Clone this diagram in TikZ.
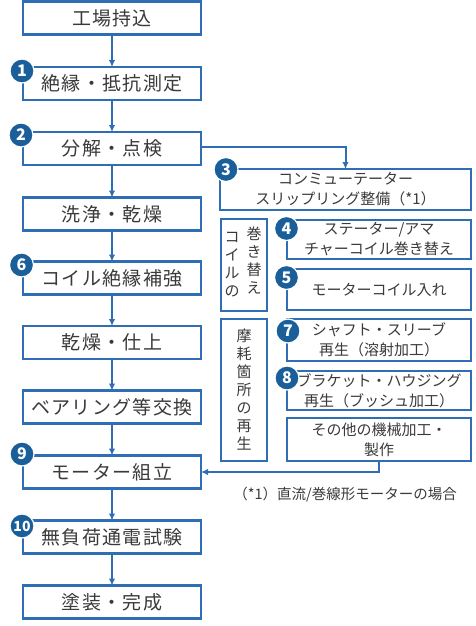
\documentclass[tikz,border=0pt]{standalone}
\usepackage{fontspec}
\setmainfont{Noto Sans CJK JP}
\usetikzlibrary{arrows.meta}
\definecolor{boxblue}{HTML}{2F6DB5}
\definecolor{badgeblue}{HTML}{1A5E9A}
\definecolor{textgray}{HTML}{3A3A3A}

\begin{document}
\begin{tikzpicture}[x=1pt,y=-1pt,
    >={Latex[length=7pt,width=6.5pt]},
    stepbox/.style={draw=boxblue, line width=2.5pt, fill=white, text=textgray,
      minimum width=178pt, minimum height=33pt, inner sep=0pt, outer sep=0pt,
      font=\fontsize{19pt}{22pt}\selectfont\addfontfeatures{LetterSpace=7}},
    subbox/.style={draw=boxblue, line width=2.5pt, fill=white, text=textgray,
      inner sep=0pt, outer sep=0pt, align=center,
      font=\fontsize{15pt}{20pt}\selectfont},
    vtext/.style={text=textgray, align=center, font=\fontsize{15pt}{18pt}\selectfont},
    badge/.style={circle, fill=badgeblue, draw=white, line width=1.2pt,
      minimum size=24pt, inner sep=0pt, text=white,
      font=\bfseries\fontsize{16pt}{16pt}\selectfont},
    flow/.style={->, draw=boxblue, line width=2pt}]

  \useasboundingbox (0,0) rectangle (475,626);

  % Main process on the left
  \node[stepbox] (bring)    at (112,18)    {工場持込};
  \node[stepbox] (measure)  at (112,83.5)  {絶縁・抵抗測定};
  \node[stepbox] (inspect)  at (112,148.5) {分解・点検};
  \node[stepbox] (wash)     at (112,214)   {洗浄・乾燥};
  \node[stepbox] (coil)     at (112,278)   {コイル絶縁補強};
  \node[stepbox] (finish)   at (112,342.5) {乾燥・仕上};
  \node[stepbox] (bearing)  at (112,407)   {ベアリング等交換};
  \node[stepbox] (assemble) at (112,472)   {モーター組立};
  \node[stepbox] (test)     at (112,537)   {無負荷通電試験};
  \node[stepbox] (paint)    at (112,602)   {塗装・完成};

  \draw[flow] (bring) -- (measure);
  \draw[flow] (measure) -- (inspect);
  \draw[flow] (inspect) -- (wash);
  \draw[flow] (wash) -- (coil);
  \draw[flow] (coil) -- (finish);
  \draw[flow] (finish) -- (bearing);
  \draw[flow] (bearing) -- (assemble);
  \draw[flow] (assemble) -- (test);
  \draw[flow] (test) -- (paint);

  % Repair works on the right
  \node[subbox, minimum width=251pt, minimum height=41pt] (commutator) at (345.5,189.5)
    {コンミューテーター\\スリップリング整備（*1）};
  \node[subbox, minimum width=46pt, minimum height=92pt] (rewind) at (244,265) {};
  \node[vtext] (rewindl) at (232,265) {コ\\イ\\ル\\の};
  \node[vtext] (rewindr) at (254,261) {巻\\き\\替\\え};
  \node[subbox, minimum width=184pt, minimum height=39pt] (stator) at (379,239.5)
    {ステーター/アマ\\チャーコイル巻き替え};
  \node[subbox, minimum width=184pt, minimum height=41pt] (insert) at (379,289.5)
    {モーターコイル入れ};
  \node[subbox, minimum width=46pt, minimum height=142pt] (wear) at (244,390) {};
  \node[vtext] (wearl) at (244,390) {摩\\耗\\箇\\所\\の\\再\\生};
  \node[subbox, minimum width=184pt, minimum height=42pt] (shaft) at (379,340)
    {シャフト・スリーブ\\再生（溶射加工）};
  \node[subbox, minimum width=184pt, minimum height=39pt] (bracket) at (379,390.5)
    {ブラケット・ハウジング\\再生（ブッシュ加工）};
  \node[subbox, minimum width=184pt, minimum height=43pt] (machining) at (379,439.5)
    {その他の機械加工・\\製作};

  \draw[flow] (inspect.east |- 0,147) -| (commutator.north);
  \draw[flow] (machining.south) |- (assemble.east);

  % Numbered badges
  \node[badge] (n1)  at (22,71)       {1};
  \node[badge] (n2)  at (21,135)      {2};
  \node[badge] (n3)  at (226,169.5)   {3};
  \node[badge] (n4)  at (286.5,228.5) {4};
  \node[badge] (n5)  at (286.5,277.5) {5};
  \node[badge] (n6)  at (21.5,265)    {6};
  \node[badge] (n7)  at (288,331)     {7};
  \node[badge] (n8)  at (287,378)     {8};
  \node[badge] (n9)  at (22,454)      {9};
  \node[badge, font=\bfseries\fontsize{14pt}{14pt}\selectfont] (n10) at (22,526) {10};

  % Footnote
  \node[text=textgray, font=\fontsize{14.5pt}{16pt}\selectfont] (note) at (345,495)
    {（*1）直流/巻線形モーターの場合};

\end{tikzpicture}
\end{document}
